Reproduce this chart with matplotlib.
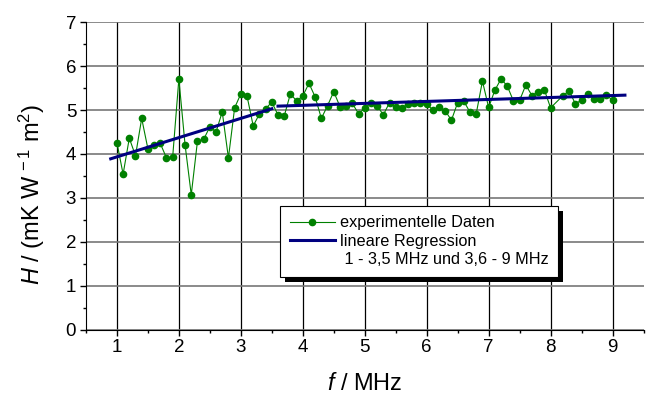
import matplotlib
matplotlib.use('Agg')
import matplotlib.pyplot as plt
from matplotlib.ticker import MultipleLocator
from matplotlib.patches import Rectangle

plt.rcParams['font.family'] = ['Liberation Sans', 'DejaVu Sans']
plt.rcParams['mathtext.fontset'] = 'custom'
plt.rcParams['mathtext.rm'] = 'Liberation Sans'
plt.rcParams['mathtext.it'] = 'Liberation Sans:italic'

# measured data (f in MHz, H in mK W^-1 m^2)
freq = [1.0, 1.1, 1.2, 1.3, 1.4, 1.5, 1.6, 1.7, 1.8, 1.9,
        2.0, 2.1, 2.2, 2.3, 2.4, 2.5, 2.6, 2.7, 2.8, 2.9,
        3.0, 3.1, 3.2, 3.3, 3.4, 3.5, 3.6, 3.7, 3.8, 3.9,
        4.0, 4.1, 4.2, 4.3, 4.4, 4.5, 4.6, 4.7, 4.8, 4.9,
        5.0, 5.1, 5.2, 5.3, 5.4, 5.5, 5.6, 5.7, 5.8, 5.9,
        6.0, 6.1, 6.2, 6.3, 6.4, 6.5, 6.6, 6.7, 6.8, 6.9,
        7.0, 7.1, 7.2, 7.3, 7.4, 7.5, 7.6, 7.7, 7.8, 7.9,
        8.0, 8.2, 8.3, 8.4, 8.5, 8.6, 8.7, 8.8, 8.9, 9.0]
H = [4.26, 3.54, 4.36, 3.96, 4.81, 4.12, 4.20, 4.24, 3.91, 3.93,
     5.71, 4.21, 3.07, 4.29, 4.33, 4.62, 4.50, 4.96, 3.91, 5.05,
     5.37, 5.32, 4.64, 4.91, 5.03, 5.18, 4.89, 4.86, 5.37, 5.21,
     5.32, 5.61, 5.30, 4.81, 5.10, 5.42, 5.08, 5.10, 5.15, 4.92,
     5.04, 5.17, 5.10, 4.89, 5.17, 5.06, 5.05, 5.14, 5.17, 5.15,
     5.14, 5.00, 5.06, 4.98, 4.77, 5.17, 5.20, 4.95, 4.92, 5.66,
     5.06, 5.45, 5.71, 5.55, 5.21, 5.22, 5.57, 5.33, 5.42, 5.46,
     5.05, 5.33, 5.44, 5.14, 5.23, 5.37, 5.26, 5.26, 5.35, 5.22]

# linear regression lines (1 - 3,5 MHz and 3,6 - 9 MHz)
reg1_f = [0.9, 3.5]
reg1_H = [3.89, 5.03]
reg2_f = [3.6, 9.2]
reg2_H = [5.09, 5.34]

fig = plt.figure(figsize=(6.51, 3.98), dpi=100)
ax = fig.add_axes([0.132, 0.172, 0.8565, 0.772])

ax.plot(freq, H, '-o', color='#008000', lw=0.8, ms=4.5,
        label='experimentelle Daten', zorder=3)
ax.plot(reg1_f, reg1_H, color='#000080', lw=2.2,
        label='lineare Regression', zorder=4)
ax.plot(reg2_f, reg2_H, color='#000080', lw=2.2, zorder=4)
ax.plot([], [], ' ', label=' 1 - 3,5 MHz und 3,6 - 9 MHz')

ax.set_xlim(0.5, 9.5)
ax.set_ylim(0, 7)
ax.xaxis.set_minor_locator(MultipleLocator(0.5))
ax.yaxis.set_minor_locator(MultipleLocator(0.5))
ax.set_xticks(range(1, 10))
ax.set_yticks(range(0, 8))

ax.xaxis.grid(True, color='black', lw=0.9)
ax.yaxis.grid(True, color='#777777', lw=1.2)
ax.set_axisbelow(True)

ax.spines['top'].set_visible(False)
ax.spines['right'].set_visible(False)
ax.tick_params(which='major', direction='out', length=4, width=1,
               labelsize=13.5, pad=3)
ax.tick_params(which='minor', direction='out', length=2.5, width=1)

ax.set_xlabel(r'$\it{f}$ / MHz', fontsize=17, labelpad=12)
ax.set_ylabel(r'$\it{H}$ / (mK W$^{\,-1}$ m$^{2}$)', fontsize=17)
ax.yaxis.set_label_coords(-0.07, 0.44)

leg = ax.legend(loc='upper left', bbox_to_anchor=(0.348, 0.403),
                borderaxespad=0, fontsize=11.7, frameon=True, fancybox=False,
                edgecolor='black', framealpha=1, handlelength=2.8,
                labelspacing=0.2, handletextpad=0.3, borderpad=0.6)
leg.get_frame().set_linewidth(0.8)

# solid black drop shadow, offset 5 px right and down
fig.canvas.draw()
bb = leg.get_frame().get_window_extent().transformed(fig.transFigure.inverted())
ax.add_patch(Rectangle((bb.x0 + 5 / 651, bb.y0 - 5 / 398), bb.width, bb.height,
                       transform=fig.transFigure, facecolor='black',
                       edgecolor='none', zorder=4.9, clip_on=False))

fig.savefig('out.png', dpi=100)
